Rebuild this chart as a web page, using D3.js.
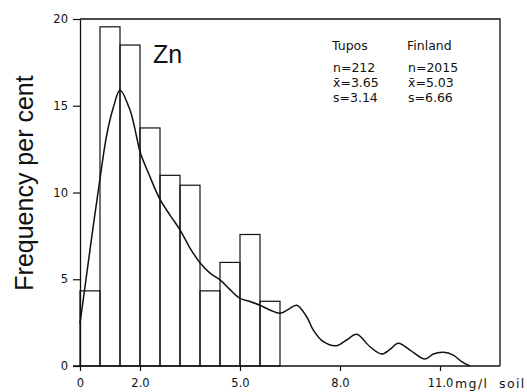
<!DOCTYPE html>
<html>
<head>
<meta charset="utf-8">
<script src="https://cdn.jsdelivr.net/npm/d3@7"></script>
<style>
  html, body { margin: 0; padding: 0; background: #fff; }
  svg { display: block; }
  text { fill: #111; }
</style>
</head>
<body>
<svg id="chart" width="527" height="392"></svg>
<script>
// Histogram of Zn (Tupos): bin edges in mg/l soil and frequency (%) per bin
const binEdges = [0.2, 0.8, 1.4, 2.0, 2.6, 3.2, 3.8, 4.4, 5.0, 5.6, 6.2];
const binFreq = [4.33, 19.55, 18.5, 13.72, 10.99, 10.42, 4.33, 5.97, 7.58, 3.73];

// Frequency curve for Finland (mg/l soil, per cent)
const curveConc = [0.2, 0.38, 0.6, 0.8, 1.0, 1.2, 1.4, 1.7, 1.9, 2.0, 2.3, 2.6, 2.9, 3.2, 3.5, 3.8,
  4.1, 4.4, 4.7, 5.0, 5.3, 5.6, 5.9, 6.2, 6.44, 6.7, 7.0, 7.2, 7.5, 7.9, 8.2, 8.5, 8.9, 9.25,
  9.5, 9.75, 10.1, 10.55, 10.8, 11.1, 11.4, 11.65, 11.9];
const curveFreq = [2.45, 5.0, 8.1, 10.8, 13.3, 14.9, 15.9, 14.75, 13.2, 12.35, 10.9, 9.6, 8.7, 7.85, 6.8, 5.95,
  5.35, 4.96, 4.4, 3.9, 3.72, 3.5, 3.23, 3.04, 3.25, 3.5, 2.84, 2.07, 1.4, 1.17, 1.5, 1.83, 1.11, 0.69,
  0.96, 1.31, 0.92, 0.4, 0.69, 0.79, 0.63, 0.25, 0.0];

// Axis ticks
const xTickValues = [0.2, 2, 5, 8, 11];
const xTickLabels = ["0", "2.0", "5.0", "8.0", "11.0"];
const yTickValues = [0, 5, 10, 15, 20];
const unitWords = ["mg/l", "soil"];

// Summary statistics
const statGroups = ["Tupos", "Finland"];
const statN = ["n=212", "n=2015"];
const statMean = ["3.65", "5.03"];
const statSd = ["s=3.14", "s=6.66"];

const svg = d3.select("#chart");
const plotL = 80, plotR = 500, plotT = 19, plotB = 366;

const x = d3.scaleLinear().domain([0.2, 12.8]).range([plotL, plotR]);
const y = d3.scaleLinear().domain([0, 20]).range([plotB, plotT]);

const ink = "#111";
const smallFont = "'DejaVu Sans', sans-serif";
const largeFont = "'Liberation Sans', Arial, sans-serif";

// histogram bars
const bars = binFreq.map((f, i) => ({ x0: binEdges[i], x1: binEdges[i + 1], f }));
svg.append("g").selectAll("rect").data(bars).join("rect")
  .attr("x", d => x(d.x0))
  .attr("y", d => y(d.f))
  .attr("width", d => x(d.x1) - x(d.x0))
  .attr("height", d => y(0) - y(d.f))
  .attr("fill", "none")
  .attr("stroke", ink)
  .attr("stroke-width", 1.2);

// frame: top and right edges
svg.append("path")
  .attr("d", `M${x.range()[0]},${y(20)}H${x.range()[1]}V${y(0)}`)
  .attr("fill", "none").attr("stroke", ink).attr("stroke-width", 1.3);

// x axis
const xAxis = d3.axisBottom(x)
  .tickValues(xTickValues)
  .tickFormat((d, i) => xTickLabels[i])
  .tickSize(5).tickSizeOuter(0).tickPadding(8);
const gx = svg.append("g").attr("transform", `translate(0,${plotB})`).call(xAxis);

// y axis
const yAxis = d3.axisLeft(y).tickValues(yTickValues).tickSize(7).tickSizeOuter(0).tickPadding(5);
const gy = svg.append("g").attr("transform", `translate(${plotL},0)`).call(yAxis);

[gx, gy].forEach(g => {
  g.attr("font-family", null).attr("font-size", null);
  g.selectAll("path.domain").attr("stroke", ink).attr("stroke-width", 1.3);
  g.selectAll(".tick line").attr("stroke", ink).attr("stroke-width", 1.2);
  g.selectAll(".tick text")
    .style("font-family", smallFont).style("font-size", "11.5px").attr("fill", ink);
});
// extend the x axis line to meet the y tick at zero
gx.select("path.domain").attr("d", `M${plotL - 7},0H${plotR}`);

// unit label after the last tick
const unitX = [x(11) + 15, x(11) + 59];
unitWords.forEach((w, i) => {
  svg.append("text")
    .attr("x", unitX[i]).attr("y", plotB + 22)
    .style("font-family", smallFont).style("font-size", "12.5px")
    .attr("letter-spacing", 1.4)
    .text(w);
});

// Finland curve
const line = d3.line()
  .x((d, i) => x(curveConc[i]))
  .y(d => y(d))
  .curve(d3.curveCatmullRom.alpha(0.5));
svg.append("path")
  .attr("d", line(curveFreq))
  .attr("fill", "none").attr("stroke", ink).attr("stroke-width", 1.5);

// y axis title
svg.append("text")
  .attr("transform", "translate(33,183) rotate(-90)")
  .attr("text-anchor", "middle")
  .style("font-family", largeFont).style("font-size", "25px")
  .text("Frequency per cent");

// element label
svg.append("text")
  .attr("x", 153).attr("y", 63)
  .style("font-family", largeFont).style("font-size", "25px")
  .text("Zn");

// statistics block
const colX = [332, 407];
statGroups.forEach((g, i) => {
  const t = svg.append("g").attr("transform", `translate(${colX[i]},0)`)
    .style("font-family", smallFont).style("font-size", "12.5px");
  t.append("text").attr("y", 50).text(g);
  t.append("text").attr("x", 1).attr("y", 72).text(statN[i]);
  const m = t.append("text").attr("x", 1).attr("y", 87);
  m.append("tspan").text("x\u0304");
  m.append("tspan").text("=" + statMean[i]);
  t.append("text").attr("x", 1).attr("y", 102).text(statSd[i]);
});
</script>
</body>
</html>
